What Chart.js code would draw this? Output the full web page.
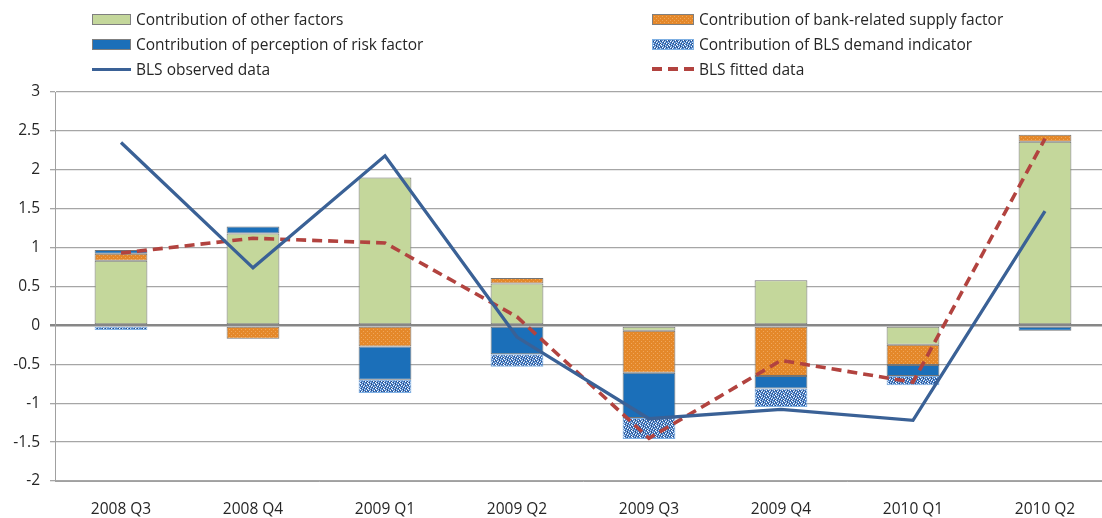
<!DOCTYPE html>
<html>
<head>
<meta charset="utf-8">
<script src="https://cdn.jsdelivr.net/npm/chart.js@4"></script>
<style>
  body { margin: 0; overflow: hidden; background: #fff; width: 1102px; height: 518px; }
  #c { position: absolute; left: 0; top: 0; }
  #legend { position: absolute; left: 0; top: 0; width: 1102px; height: 86px; font-family: "Open Sans", sans-serif; font-size: 15.5px; color: #262626; }
  .item { position: absolute; display: flex; align-items: center; height: 20px; white-space: nowrap; }
  .sw { height: 11px; margin-right: 5px; box-sizing: border-box; }
</style>
</head>
<body>
<canvas id="c" width="1115" height="518"></canvas>
<div id="legend"></div>
<script>
const categories = ["2008 Q3", "2008 Q4", "2009 Q1", "2009 Q2", "2009 Q3", "2009 Q4", "2010 Q1", "2010 Q2"];
const otherFactors    = [0.83, 1.18, 1.90, 0.54, -0.07, 0.58, -0.25, 2.36];
const supplyFactor    = [0.09, -0.17, -0.27, 0.07, -0.54, -0.65, -0.26, 0.09];
const riskFactor      = [0.05, 0.09, -0.43, -0.37, -0.58, -0.16, -0.14, -0.07];
const demandIndicator = [-0.06, 0, -0.17, -0.16, -0.27, -0.24, -0.12, 0];
const observedData    = [2.35, 0.74, 2.18, -0.15, -1.20, -1.08, -1.22, 1.47];
const fittedData      = [0.93, 1.12, 1.06, 0.11, -1.45, -0.45, -0.73, 2.40];
const yMin = -2, yMax = 3, yStep = 0.5;

const FONT = { family: "'Open Sans', sans-serif", size: 15.5 };
const TEXT = "#262626";

// small tiles for the textured fills
function makeTile(rows, colors) {
  const c = document.createElement("canvas");
  c.width = rows[0].length;
  c.height = rows.length;
  const g = c.getContext("2d");
  rows.forEach((row, y) => {
    [...row].forEach((ch, x) => {
      g.fillStyle = colors[ch];
      g.fillRect(x, y, 1, 1);
    });
  });
  return c;
}
const supplyTile = makeTile(["aaaa", "abaa", "aaaa", "aaab"], { a: "#e4882a", b: "#f0a65a" });
const demandTile = makeTile([
  "mmldmmwd",
  "dwmmldmm",
  "mmdwmmml",
  "lmmmdwmd",
  "mdlmmmdw",
  "wmmdlmmm"
], { d: "#2a4a82", m: "#5087cc", l: "#c6d9f2", w: "#ffffff" });
const pctx = document.createElement("canvas").getContext("2d");
const supplyPattern = pctx.createPattern(supplyTile, "repeat");
const demandPattern = pctx.createPattern(demandTile, "repeat");

function barSet(label, data, bg, border, swatch) {
  return {
    type: "bar", label, data, backgroundColor: bg, borderColor: border, borderWidth: 1,
    borderSkipped: false, stack: "bars", order: 1, swatch
  };
}

const datasets = [
  barSet("Contribution of other factors", otherFactors, "#c4d79b", "#747474", "background:#c4d79b;border:1px solid #7f7f7f"),
  barSet("Contribution of bank-related supply factor", supplyFactor, supplyPattern, "#747474",
    `background:url(${supplyTile.toDataURL()});border:1px solid #7f7f7f`),
  barSet("Contribution of perception of risk factor", riskFactor, "#1b6fb9", "#747474", "background:#1b6fb9;border:1px solid #7f7f7f"),
  barSet("Contribution of BLS demand indicator", demandIndicator, demandPattern, "#7fb0e3",
    `background:url(${demandTile.toDataURL()});border:1px solid #7fb0e3`),
  {
    type: "line", label: "BLS observed data", data: observedData, borderColor: "#3a6196", borderWidth: 3.3,
    pointRadius: 0, tension: 0, stack: "obs", order: 0, fill: false,
    swatch: "height:3px;background:#3a6196"
  },
  {
    type: "line", label: "BLS fitted data", data: fittedData, borderColor: "#b2433f", borderWidth: 3.6,
    borderDash: [10, 6], pointRadius: 0, tension: 0, stack: "fit", order: 0, fill: false,
    swatch: "height:4px;background:repeating-linear-gradient(to right,#b2433f 0 10px,transparent 10px 16px)"
  }
];

const chart = new Chart(document.getElementById("c"), {
  type: "bar",
  data: { labels: categories, datasets },
  options: {
    responsive: false,
    devicePixelRatio: 1,
    animation: false,
    layout: { padding: { top: 92, right: 4, left: 0, bottom: 0 } },
    datasets: { bar: { categoryPercentage: 1, barPercentage: 0.4 } },
    plugins: { legend: { display: false }, tooltip: { enabled: false } },
    scales: {
      x: {
        stacked: true,
        offset: true,
        grid: { display: false, drawTicks: false },
        border: { display: true, color: "#a0a0a0" },
        ticks: { font: FONT, color: TEXT, padding: 19, maxRotation: 0 },
        afterFit: s => { s.height = 37; }
      },
      y: {
        stacked: true,
        min: yMin,
        max: yMax,
        ticks: { stepSize: yStep, font: FONT, color: TEXT, padding: 10, callback: v => String(v) },
        grid: {
          color: c => (c.tick && c.tick.value === 0 ? "#878787" : "#a6a6a6"),
          lineWidth: c => (c.tick && c.tick.value === 0 ? 2.5 : 1.3),
          tickLength: 5
        },
        border: { color: "#a0a0a0", width: 1 },
        afterFit: s => { s.width = 55; }
      }
    }
  }
});

// html legend, two columns like the original
const legendCols = [92, 652];
const legendRows = [19, 44, 69];
const swatchW = [39, 42];
const legend = document.getElementById("legend");
chart.data.datasets.forEach((ds, i) => {
  const col = i % 2, row = Math.floor(i / 2);
  const item = document.createElement("div");
  item.className = "item";
  item.style.left = legendCols[col] + "px";
  item.style.top = (legendRows[row] - 10) + "px";
  const sw = document.createElement("span");
  sw.className = "sw";
  sw.style.cssText = `width:${swatchW[col]}px;` + ds.swatch;
  const tx = document.createElement("span");
  tx.textContent = ds.label;
  item.appendChild(sw);
  item.appendChild(tx);
  legend.appendChild(item);
});
</script>
</body>
</html>
